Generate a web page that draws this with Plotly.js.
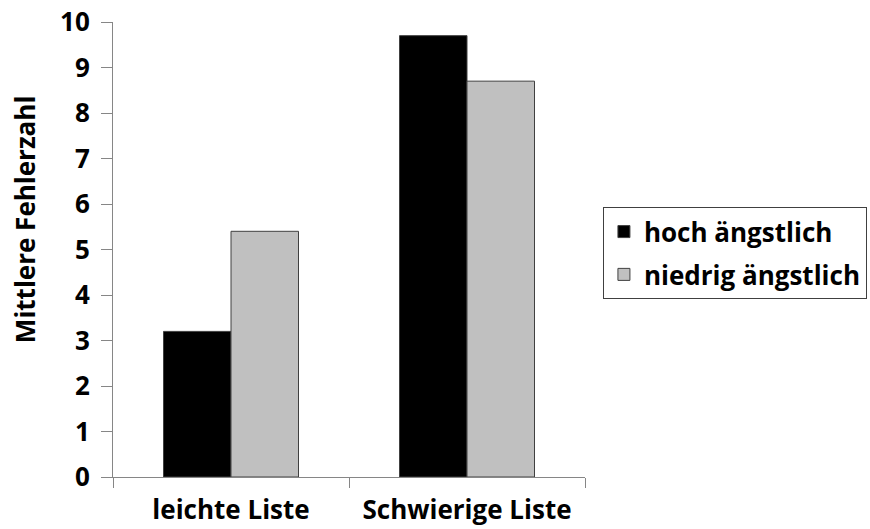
<!DOCTYPE html>
<html><head><meta charset="utf-8">
<script src="https://cdn.plot.ly/plotly-3.0.1.min.js"></script>
<style>body{margin:0;background:#fff}#c{width:870px;height:529px}</style>
</head><body><div id="c"></div>
<script>
const categories = ["leichte Liste", "Schwierige Liste"];
const seriesNames = ["hoch ängstlich", "niedrig ängstlich"];
const hochValues = [3.2, 9.7];
const niedrigValues = [5.4, 8.7];
const yTicks = [0,1,2,3,4,5,6,7,8,9,10];

const FONT = "'Open Sans', sans-serif";
const FS = 26;
const traces = [
  {type:'bar', name:seriesNames[0], x:categories, y:hochValues, legendgroup:'a',
   marker:{color:'#000000', line:{color:'#404040', width:1}}},
  {type:'bar', name:seriesNames[1], x:categories, y:niedrigValues, legendgroup:'b',
   marker:{color:'#C0C0C0', line:{color:'#404040', width:1}}}
];
const layout = {
  width:870, height:529,
  margin:{l:113, r:285, t:22, b:52, autoexpand:false},
  paper_bgcolor:'#fff', plot_bgcolor:'#fff',
  barmode:'group', bargap:0.428, bargroupgap:0,
  font:{family:FONT, color:'#000', size:FS},
  xaxis:{type:'category', showline:true, linecolor:'#868686', linewidth:1,
    ticks:'outside', tickson:'boundaries', ticklen:10, tickcolor:'#868686',
    tickfont:{family:FONT, size:FS, weight:'bold'}, showgrid:false, zeroline:false,
    ticklabelstandoff:10, automargin:false},
  yaxis:{range:[0,10], tickvals:yTicks, showline:true, linecolor:'#868686', linewidth:1,
    ticks:'outside', ticklen:11, tickcolor:'#868686', showgrid:false, zeroline:false,
    tickfont:{family:FONT, size:FS, weight:'bold'}, ticklabelstandoff:6, automargin:false},
  showlegend:true,
  legend:{x:1.038, y:0.593, xanchor:'left', yanchor:'top',
    bordercolor:'#404040', borderwidth:1, bgcolor:'#fff',
    font:{family:FONT, size:FS, weight:'bold'}, traceorder:'grouped', tracegroupgap:6},
  annotations:[{text:'Mittlere Fehlerzahl', xref:'paper', yref:'paper',
    x:-0.186, y:0.565, xanchor:'center', yanchor:'middle', textangle:-90, showarrow:false,
    font:{family:FONT, size:FS, weight:'bold'}}]
};
Plotly.newPlot('c', traces, layout, {displayModeBar:false, staticPlot:true});
</script></body></html>
